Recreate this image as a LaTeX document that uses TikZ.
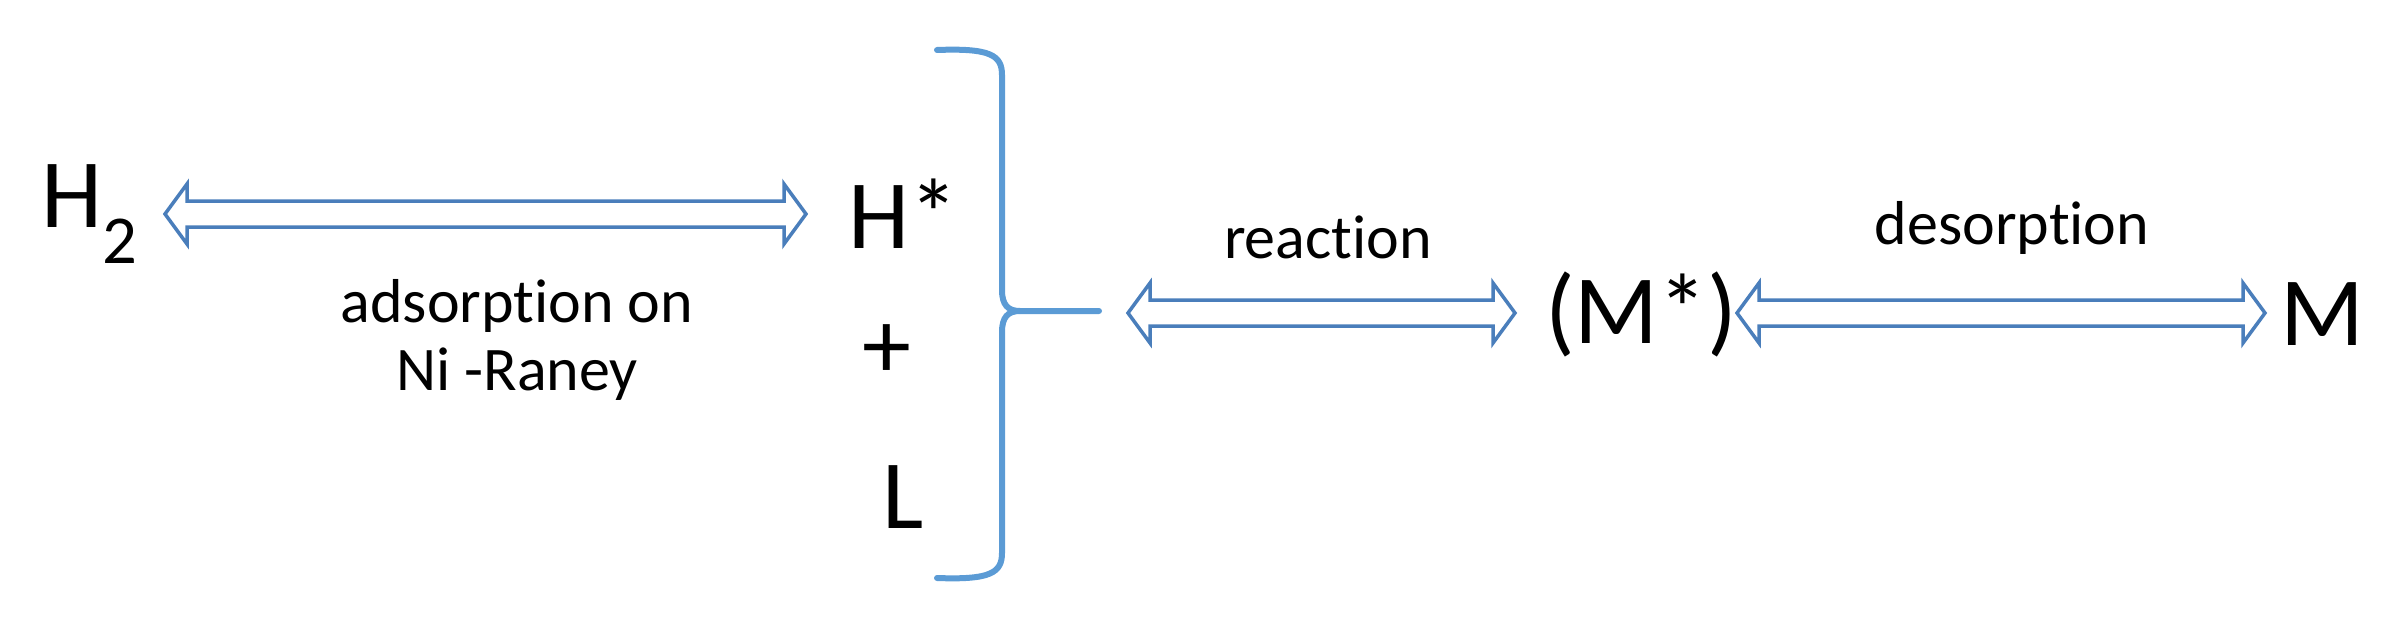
\documentclass[tikz,border=0pt]{standalone}
\usepackage{fontspec}
\setmainfont[Ligatures={NoCommon,NoRequired,NoContextual}]{Carlito}
\begin{document}
\begin{tikzpicture}[x=1pt,y=-1pt,
  big/.style={font=\fontsize{98}{100}\selectfont,inner sep=0pt},
  lbl/.style={font=\fontsize{62}{72}\selectfont,inner sep=0pt,align=center},
  dbl/.style={draw=arrowblue,line width=3.5pt,fill=white,line join=miter}]
\definecolor{arrowblue}{HTML}{4A7EBB}
\definecolor{brblue}{HTML}{5B9BD5}
\useasboundingbox (0,0) rectangle (2388,618);
\newcommand\dblarrow[3]{%
  \draw[dbl] (#1,#3) -- ++(22,-30) -- ++(0,17) -- (#2-22,#3-13) -- ++(0,-17) -- (#2,#3)
   -- ++(-22,30) -- ++(0,-17) -- (#1+22,#3+13) -- ++(0,17) -- cycle;}
\node[big] (h2) at (90,214) {H\textsubscript{2}};
\node[big] (hs) at (903,214) {H*};
\node[big] (plus) at (887,352) {+};
\node[big] (l) at (903,497) {L};
\node[big] (ms) at (1641,314) {(M*)};
\node[big] (m) at (2322,314) {M};
\node[lbl] (ads) at (517,340) {adsorption on\\[-4pt]Ni -Raney};
\node[lbl] (rea) at (1328,237) {reaction};
\node[lbl] (des) at (2012,228) {desorption};
\dblarrow{165}{806}{214}
\dblarrow{1128}{1515}{313}
\dblarrow{1737}{2265}{313}
\draw[brblue,line width=6pt,line cap=round]
  (937,50) .. controls (990,48) and (1002,55) .. (1002,75) -- (1002,290)
  .. controls (1002,305) and (1008,311) .. (1020,311) -- (1099,311);
\draw[brblue,line width=6pt,line cap=round]
  (1020,311) .. controls (1008,311) and (1002,317) .. (1002,332) -- (1002,553)
  .. controls (1002,573) and (990,580) .. (937,578);
\end{tikzpicture}
\end{document}
